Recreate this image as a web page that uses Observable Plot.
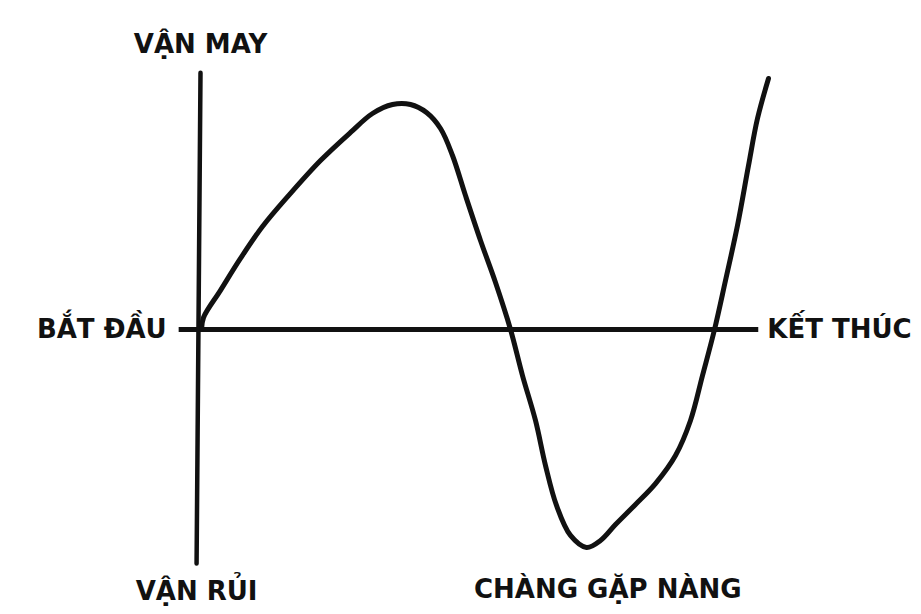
<!DOCTYPE html>
<html>
<head>
<meta charset="utf-8">
<script src="https://cdn.jsdelivr.net/npm/d3@7"></script>
<script src="https://cdn.jsdelivr.net/npm/@observablehq/plot@0.6"></script>
<style>
  html, body { margin: 0; padding: 0; background: #fff; }
  svg text { font-family: "DejaVu Sans", sans-serif; font-weight: bold; }
</style>
</head>
<body>
<div id="chart"></div>
<script>
// Story progress (x, 0..100) and fortune (y, -10..10)
const storyX = [0.18, 0.54, 3.57, 7.14, 11.07, 16.07, 21.43, 26.79, 30.71, 34.29, 37.5, 40.36, 42.86, 45.0, 47.32, 50.0, 52.68, 55.36,
                57.5, 59.82, 61.61, 63.57, 66.07, 68.93, 71.43, 74.11, 77.68, 81.25, 84.82, 87.5, 89.64, 91.79,
                93.75, 95.89, 97.86, 99.46, 101.43];
const storyY = [0, 0.5, 1.63, 2.96, 4.29, 5.67, 7.04, 8.21, 9.0, 9.375, 9.375, 9.04, 8.375, 7.25, 5.58, 3.71, 1.96, 0,
                -1.92, -3.79, -5.67, -7.33, -8.58, -9.08, -8.79, -8.125, -7.29, -6.42, -5.25, -3.79, -1.92, 0,
                2.04, 4.33, 6.83, 8.79, 10.46];

// Axis extents
const timeAxisX = [-3.9, 99.6];
const fortuneAxisY = [10.7, -9.75];
const fortuneAxisX = [0, -0.7];

// Labels
const labelTop = "VẬN MAY";
const labelBottom = "VẬN RỦI";
const labelStart = "BẮT ĐẦU";
const labelEnd = "KẾT THÚC";
const labelTrough = "CHÀNG GẶP NÀNG";

const curve = storyX.map((x, i) => ({x, y: storyY[i]}));
const hAxis = timeAxisX.map(x => ({x, y: 0}));
const vAxis = fortuneAxisY.map((y, i) => ({x: fortuneAxisX[i], y}));
const troughIdx = storyY.indexOf(d3.min(storyY));

const ink = "#111";
const fs = 26;
const chart = Plot.plot({
  width: 921,
  height: 614,
  marginLeft: 200,
  marginRight: 161,
  marginTop: 89,
  marginBottom: 45,
  x: {domain: [0, 100], axis: null},
  y: {domain: [-10, 10], axis: null},
  marks: [
    Plot.line(hAxis, {x: "x", y: "y", stroke: ink, strokeWidth: 5, strokeLinecap: "butt"}),
    Plot.line(vAxis, {x: "x", y: "y", stroke: ink, strokeWidth: 4.5, strokeLinecap: "round"}),
    Plot.line(curve, {x: "x", y: "y", curve: "catmull-rom", stroke: ink, strokeWidth: 5, strokeLinecap: "round", strokeLinejoin: "round"}),
    Plot.text([labelTop], {x: () => fortuneAxisX[0], y: () => fortuneAxisY[0], text: d => d, dy: -28, fontSize: fs, fill: ink}),
    Plot.text([labelBottom], {x: () => fortuneAxisX[1], y: () => fortuneAxisY[1], text: d => d, dy: 28, fontSize: fs, fill: ink}),
    Plot.text([labelStart], {x: () => timeAxisX[0], y: () => 0, text: d => d, textAnchor: "end", dx: -12, fontSize: fs, fill: ink}),
    Plot.text([labelEnd], {x: () => timeAxisX[1], y: () => 0, text: d => d, textAnchor: "start", dx: 9, fontSize: fs, fill: ink}),
    Plot.text([labelTrough], {x: () => storyX[troughIdx] + 3.8, y: () => fortuneAxisY[1], text: d => d, dy: 26, fontSize: fs, fill: ink})
  ]
});
document.getElementById("chart").appendChild(chart);
</script>
</body>
</html>
